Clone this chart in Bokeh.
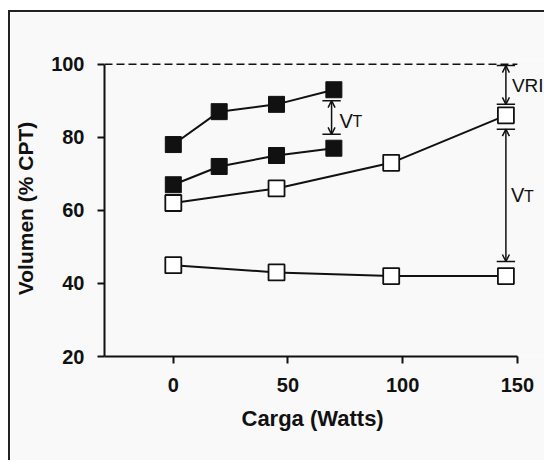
from bokeh.plotting import figure
from bokeh.models import Range1d, Arrow, OpenHead, Label, FixedTicker, Title
from bokeh.embed import file_html
from bokeh.resources import INLINE

# ---- data ----
carga_fill = [0, 20, 45, 70]
vol_fill_top = [78, 87, 89, 93]
vol_fill_low = [67, 72, 75, 77]
carga_open = [0, 45, 95, 145]
vol_open_top = [62, 66, 73, 86]
vol_open_low = [45, 43, 42, 42]
x_ticks = [0, 50, 100, 150]
y_ticks = [20, 40, 60, 80, 100]
cpt_ref = 100

# annotation brackets (x, top, bottom)
arrow_x = [69, 145, 145]
arrow_top = [90, 99.6, 82.2]
arrow_bot = [80.8, 89, 46]
cap_half = 4.0

FONT = "Liberation Sans"
INK = "#111111"
BG = "#f9f9f9"

p = figure(width=536, height=450, output_backend="svg", toolbar_location=None,
           x_range=Range1d(-30, 162.7), y_range=Range1d(20, 101),
           min_border_left=94, min_border_top=48, min_border_right=0, min_border_bottom=106)
p.styles = {"margin-left": "8px", "margin-top": "10px",
            "border-top": "2px solid #222", "border-left": "2px solid #222"}
p.background_fill_color = BG
p.border_fill_color = BG
p.outline_line_color = None
p.xgrid.visible = False
p.ygrid.visible = False

for ax in (p.xaxis[0], p.yaxis[0]):
    ax.axis_line_width = 2
    ax.axis_line_color = INK
    ax.major_tick_line_width = 2
    ax.major_tick_line_color = INK
    ax.major_tick_in = 0
    ax.major_tick_out = 7
    ax.minor_tick_line_color = None
    ax.major_label_text_font = FONT
    ax.major_label_text_font_style = "bold"
    ax.major_label_text_font_size = "20px"
    ax.major_label_text_color = INK
    ax.axis_label_text_font = FONT
    ax.axis_label_text_font_style = "bold"
    ax.axis_label_text_font_size = "21px"
    ax.axis_label_text_color = INK

p.xaxis.ticker = FixedTicker(ticks=x_ticks)
p.yaxis.ticker = FixedTicker(ticks=y_ticks)
p.yaxis.bounds = (y_ticks[0], y_ticks[-1])
p.xaxis.bounds = (p.x_range.start, x_ticks[-1])
p.yaxis.axis_label = "Volumen (% CPT)"
p.xaxis.major_label_standoff = 14
p.yaxis.major_label_standoff = 13
p.yaxis.axis_label_standoff = 11

# x-axis title, centred under the drawn axis (frame extends further right)
p.add_layout(Title(text="Carga (Watts)", align="left", offset=137, standoff=18,
                   text_font=FONT, text_font_style="bold", text_font_size="22px",
                   text_color=INK), "below")

# dashed reference line at 100 % CPT
p.line([p.x_range.start, x_ticks[-1]], [cpt_ref, cpt_ref], line_color=INK,
       line_width=1.5, line_dash="8 4")

# series
for ys in (vol_fill_top, vol_fill_low):
    p.line(carga_fill, ys, line_color=INK, line_width=2)
    p.scatter(carga_fill, ys, marker="square", size=16, fill_color=INK,
              line_color=INK, line_width=1)
for ys in (vol_open_top, vol_open_low):
    p.line(carga_open, ys, line_color=INK, line_width=2)
    p.scatter(carga_open, ys, marker="square", size=16, fill_color="white",
              line_color=INK, line_width=1.8)

# brackets: caps + double-headed arrows
cx0 = [x - cap_half for x in arrow_x]
cx1 = [x + cap_half for x in arrow_x]
p.segment(cx0, arrow_top, cx1, arrow_top, line_color=INK, line_width=1.5)
p.segment(cx0, arrow_bot, cx1, arrow_bot, line_color=INK, line_width=1.5)
for x, y0, y1 in zip(arrow_x, arrow_top, arrow_bot):
    p.add_layout(Arrow(x_start=x, y_start=y0, x_end=x, y_end=y1,
                       start=OpenHead(size=7, line_width=1.5, line_color=INK),
                       end=OpenHead(size=7, line_width=1.5, line_color=INK),
                       line_width=1.5, line_color=INK))

def txt(x, y, t, size, xoff=0, yoff=0):
    p.add_layout(Label(x=x, y=y, text=t, x_offset=xoff, y_offset=yoff, text_font=FONT,
                       text_font_size=size, text_color=INK,
                       text_baseline="middle", text_align="left"))

mid = [(a + b) / 2 for a, b in zip(arrow_top, arrow_bot)]
txt(arrow_x[0], mid[0], "V", "20px", 8, -3)
txt(arrow_x[0], mid[0], "T", "16px", 21, -4)
txt(arrow_x[1], mid[1], "VRI", "19px", 6, -1)
txt(arrow_x[2], mid[2], "V", "20px", 5, 0)
txt(arrow_x[2], mid[2], "T", "16px", 18, -1)

open("out.html", "w").write(file_html(p, INLINE))
